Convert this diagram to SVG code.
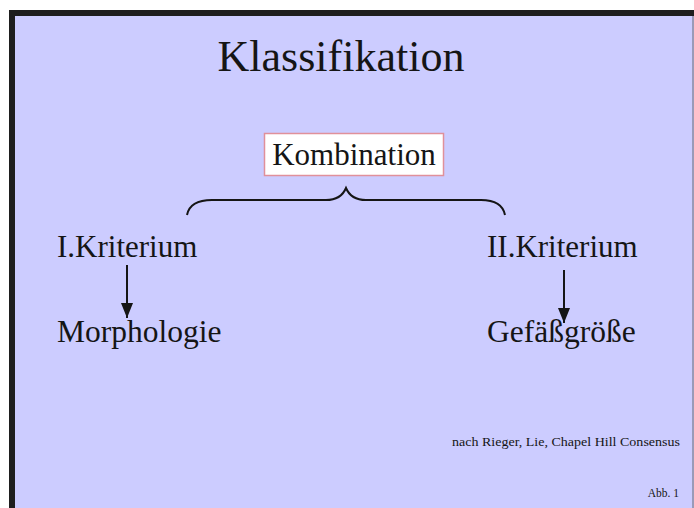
<svg xmlns="http://www.w3.org/2000/svg" width="694" height="508" viewBox="0 0 694 508">
<style>
.t{font-family:"Liberation Serif","Times New Roman",serif;fill:#151515}
.c{stroke:#151515;stroke-width:2;fill:none}
</style>
<defs>
<marker id="ah" markerWidth="15" markerHeight="12" refX="15" refY="6" orient="auto" markerUnits="userSpaceOnUse" viewBox="0 0 15 12">
<path d="M0,0 L15,6 L0,12 Z" fill="#151515"/>
</marker>
</defs>
<rect x="0" y="0" width="694" height="508" fill="#ffffff"/>
<rect x="9" y="10" width="685" height="498" fill="#1e1e1e"/>
<rect x="15" y="16" width="679" height="492" fill="#ccccff"/>
<rect x="692" y="16" width="2" height="492" fill="#9a9ab8"/>
<g id="title"><text class="t" x="341" y="71" font-size="44" text-anchor="middle">Klassifikation</text></g>
<g id="kombination">
<rect x="264.5" y="133.5" width="179" height="42" fill="#ffffff" stroke="#e0909a" stroke-width="1.5"/>
<text class="t" x="354" y="165" font-size="31" text-anchor="middle">Kombination</text>
</g>
<g id="kriterium1"><text class="t" x="57" y="257" font-size="31">I.Kriterium</text></g>
<g id="morphologie"><text class="t" x="57" y="342" font-size="31.5">Morphologie</text></g>
<g id="kriterium2"><text class="t" x="487" y="257" font-size="31">II.Kriterium</text></g>
<g id="gefaessgroesse"><text class="t" x="487" y="342" font-size="31.5">Gefäßgröße</text></g>
<g id="connectors">
<path class="c" d="M187,215 Q190,200 212,200 L326,200 Q341,200 346,188 Q351,200 366,200 L481,200 Q502,200 505,215"/>
<line class="c" x1="127" y1="265" x2="127" y2="318" marker-end="url(#ah)"/>
<line class="c" x1="564" y1="270" x2="564" y2="323" marker-end="url(#ah)"/>
</g>
<g id="source"><text class="t" x="680" y="446" font-size="12" text-anchor="end" textLength="228" lengthAdjust="spacingAndGlyphs">nach Rieger, Lie, Chapel Hill Consensus</text></g>
<g id="abb"><text class="t" x="679" y="497" font-size="11.5" text-anchor="end">Abb. 1</text></g>
</svg>
